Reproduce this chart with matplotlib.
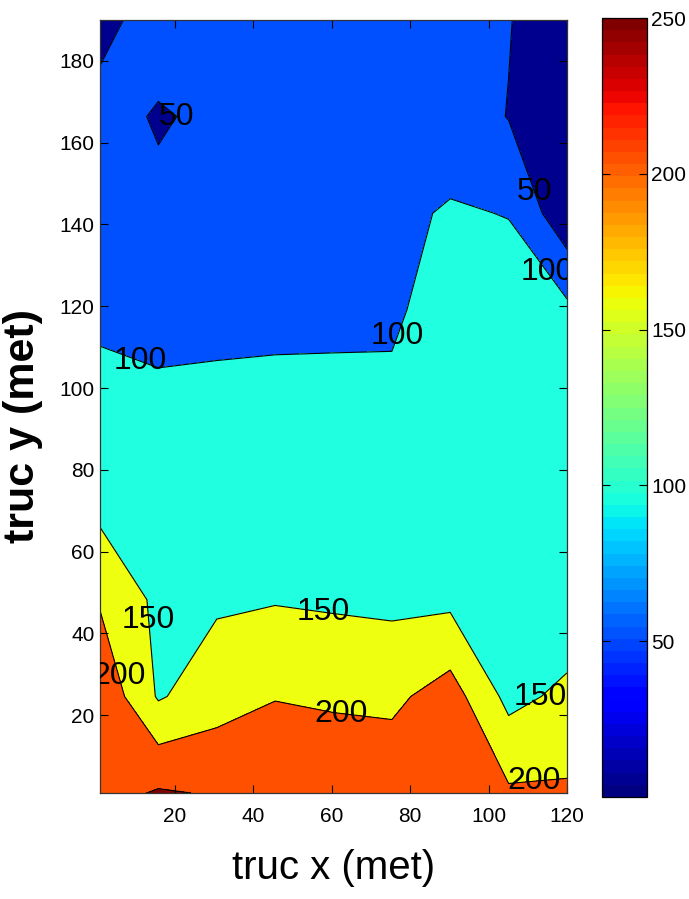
import numpy as np
import matplotlib
matplotlib.use("Agg")
import matplotlib.pyplot as plt
from matplotlib import font_manager
from matplotlib.colors import Normalize

# ---- data (grid nodes) ----
x_grid = [1, 15.875, 30.75, 45.625, 60.5, 75.375, 90.25, 105.125, 120]
y_grid = [1, 24.6, 48.25, 71.9, 95.5, 119.1, 142.75, 166.4, 190]

# one row per y_grid value, one column per x_grid value
z_rows = [
    [230, 255, 246, 240, 240, 235, 240, 207, 207],
    [240, 145, 178, 198, 192, 189, 223, 136, 161],
    [195, 139, 143, 147, 143, 139, 139, 130, 116],
    [135, 125, 125, 130, 130, 125, 130, 125, 114],
    [110, 110, 110, 115, 115, 112, 128, 120, 112],
    [94, 85, 89, 87, 88, 91, 126, 115, 111],
    [80, 62, 80, 80, 80, 93, 103, 99, 14],
    [70, 45, 61, 72, 72, 72, 83, 48, 5],
    [32, 77, 65, 68, 68, 68, 70, 53, 5],
]

levels = [0, 50, 100, 150, 200, 250, 300]
fill_colors = ["#00008f", "#0050ff", "#20ffdf", "#efff10", "#ff5000", "#800000"]
cbar_ticks = [50, 100, 150, 200, 250]

# where the contour labels sit (x, y)
label_pos = [(22.5, 167.5), (111.0, 147.7), (115.7, 128.9), (76.2, 113.0),
             (12.0, 108.6), (14.5, 43.3), (58.3, 47.5), (112.4, 25.7),
             (6.1, 29.8), (62.7, 21.8), (111.3, 6.6)]

# ---- fonts ----
names = {f.name for f in font_manager.fontManager.ttflist}
narrow = "Liberation Sans Narrow" if "Liberation Sans Narrow" in names else "Liberation Sans"
plt.rcParams["font.family"] = [narrow, "DejaVu Sans"]

X, Y = np.meshgrid(x_grid, y_grid)
Z = np.array(z_rows, dtype=float)

fig = plt.figure(figsize=(6.89, 8.99), dpi=100)
ax = fig.add_axes([100 / 689, 1 - 793 / 899, 467 / 689, 773 / 899])
cax = fig.add_axes([602 / 689, 1 - 797 / 899, 45 / 689, 779 / 899])

ax.contourf(X, Y, Z, levels=levels, colors=fill_colors)
cs = ax.contour(X, Y, Z, levels=levels[1:-1], colors="black", linewidths=0.8)
ax.clabel(cs, fmt="%d", inline=False, manual=label_pos, fontsize=23, colors="black")
for t in cs.labelTexts:
    t.set_rotation(0)
    t.set_clip_on(True)

ax.set_xlim(1, 120)
ax.set_ylim(1, 190)
ax.set_xticks([20, 40, 60, 80, 100, 120])
ax.set_yticks([20, 40, 60, 80, 100, 120, 140, 160, 180])
ax.tick_params(direction="in", length=6, width=0.8, top=True, right=True, labelsize=15)
ax.tick_params(axis="x", pad=10)
ax.tick_params(axis="y", pad=4)
for s in ax.spines.values():
    s.set_linewidth(0.9)
    s.set_color("#333333")

ax.set_xlabel("truc x (met)", fontsize=29)
ax.xaxis.set_label_coords(0.5, -0.072)
ax.set_ylabel("truc y (met)", fontsize=31, fontweight="bold", family=["Liberation Sans", "DejaVu Sans"])
ax.yaxis.set_label_coords(-0.122, 0.475)

# colorbar
sm = plt.cm.ScalarMappable(norm=Normalize(vmin=0, vmax=250), cmap=plt.get_cmap("jet").resampled(64))
cb = fig.colorbar(sm, cax=cax, ticks=cbar_ticks)
cax.tick_params(direction="in", length=6, width=0.8, left=True, right=True, labelsize=15, pad=3)
cb.outline.set_linewidth(0.9)

fig.savefig("out.png", dpi=100)
